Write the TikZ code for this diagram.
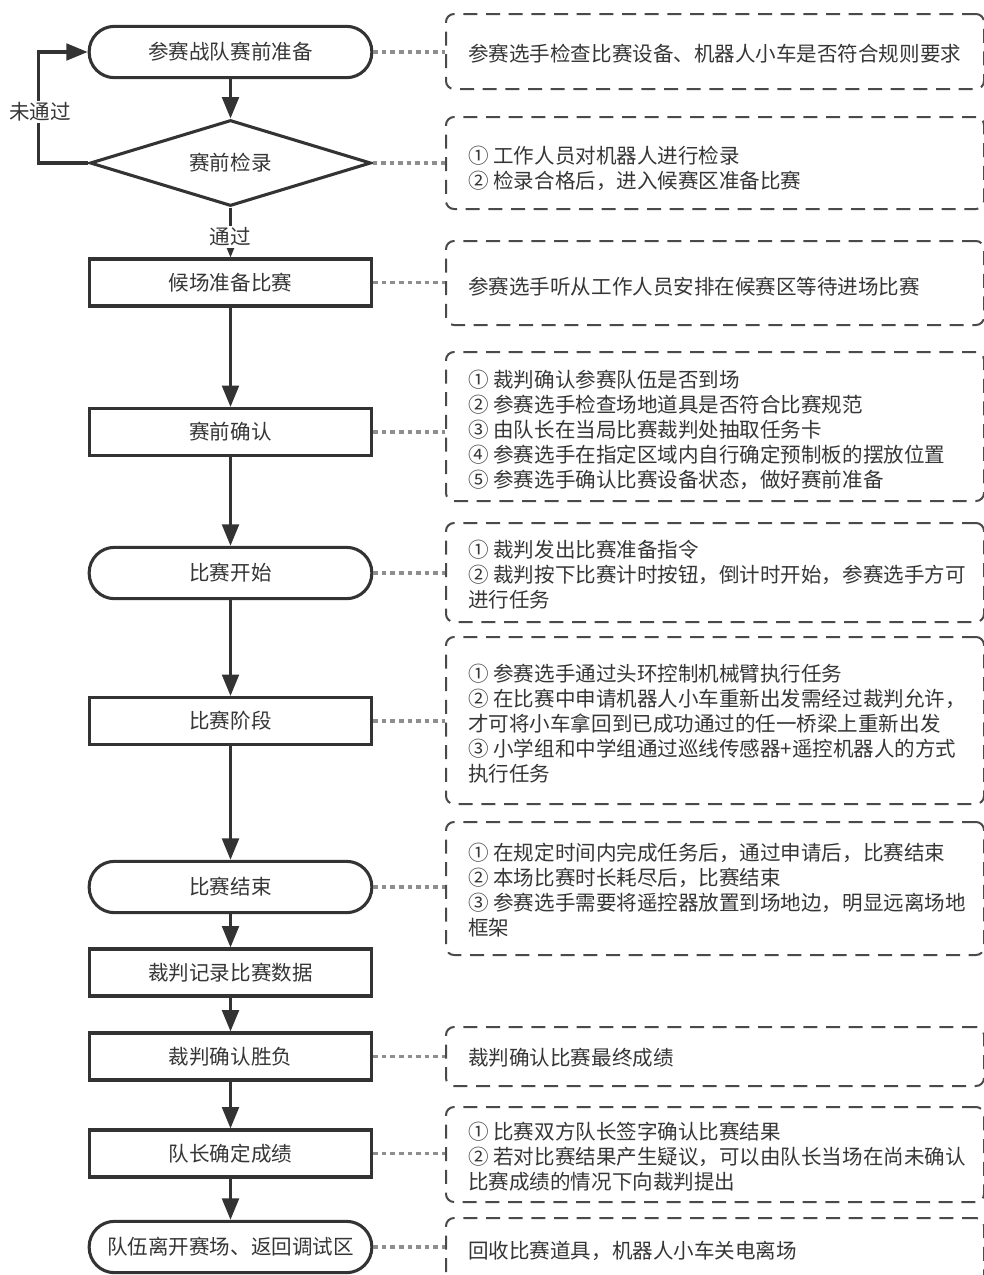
\documentclass[tikz,border=0pt]{standalone}
\usepackage{fontspec}
\setmainfont{Noto Sans CJK SC}
\usetikzlibrary{arrows.meta,shapes.geometric,calc}
\definecolor{ink}{HTML}{333333}
\definecolor{txt}{HTML}{363636}
\definecolor{dotc}{HTML}{8E8E8E}
\definecolor{dashc}{HTML}{4A4A4A}
\begin{document}
\begin{tikzpicture}[x=0.75pt,y=-0.75pt,
  base/.style={font=\fontsize{15.4pt}{18.75pt}\selectfont, text=txt},
  proc/.style={base, draw=ink, line width=2.3pt, fill=white, minimum width=212pt, minimum height=35.25pt, inner sep=0pt},
  term/.style={proc, rounded corners=19pt, minimum height=38.5pt},
  dec/.style={base, diamond, draw=ink, line width=2.3pt, fill=white, minimum width=210.75pt, minimum height=64.5pt, inner sep=0pt, aspect=3.2},
  flow/.style={draw=ink, line width=2.3pt, -{Triangle[length=16pt,width=12.5pt]}},
  lbl/.style={base, fill=white, inner sep=1pt},
  notebox/.style={draw=dashc, line width=1.5pt, dash pattern=on 10.5pt off 6.5pt, rounded corners=6pt, minimum width=403.5pt, inner sep=0pt},
  notetext/.style={base, anchor=west, align=left, inner sep=0pt},
  link/.style={draw=dotc, line width=2.3pt, dash pattern=on 3.4pt off 3pt}
]
\useasboundingbox (0,0) rectangle (983,1275);

% main flow column
\node[term] (n1) at (230.5,52) {参赛战队赛前准备};
\node[dec]  (n2) at (230.5,163) {赛前检录};
\node[proc] (n3) at (230.5,282.5) {候场准备比赛};
\node[proc] (n4) at (230.5,432) {赛前确认};
\node[term] (n5) at (230.5,573) {比赛开始};
\node[proc] (n6) at (230.5,721) {比赛阶段};
\node[term] (n7) at (230.5,887) {比赛结束};
\node[proc] (n8) at (230.5,972.5) {裁判记录比赛数据};
\node[proc] (n9) at (230.5,1056.5) {裁判确认胜负};
\node[proc] (n10) at (230.5,1153.5) {队长确定成绩};
\node[term] (n11) at (230.5,1247) {队伍离开赛场、返回调试区};

% arrows between steps
\draw[flow] (n1) -- (n2);
\draw[flow] (n2) -- (n3);
\draw[flow] (n3) -- (n4);
\draw[flow] (n4) -- (n5);
\draw[flow] (n5) -- (n6);
\draw[flow] (n6) -- (n7);
\draw[flow] (n7) -- (n8);
\draw[flow] (n8) -- (n9);
\draw[flow] (n9) -- (n10);
\draw[flow] (n10) -- (n11);
\draw[flow] (n2.west) -- ++(-50,0) |- (n1.west);

\node[lbl] (pass) at (230.5,237) {通过};
\node[lbl] (fail) at (40,112) {未通过};

% note boxes (right side runs to the page edge)
\node[notebox, minimum height=56.25pt]  (b1)  at (715,51.5) {};
\node[notebox, minimum height=69pt]     (b2)  at (715,163) {};
\node[notebox, minimum height=63pt]     (b3)  at (715,283) {};
\node[notebox, minimum height=111.75pt] (b4)  at (715,426.5) {};
\node[notebox, minimum height=74.25pt]  (b5)  at (715,572.5) {};
\node[notebox, minimum height=125.25pt] (b6)  at (715,720.5) {};
\node[notebox, minimum height=99.75pt]  (b7)  at (715,888.5) {};
\node[notebox, minimum height=44.25pt]  (b8)  at (715,1056.5) {};
\node[notebox, minimum height=71.25pt]  (b9)  at (715,1154.5) {};
\node[notebox, minimum height=61.5pt]   (b10) at (715,1259) {};

% note texts
\node[notetext] (t1) at (468,54) {参赛选手检查比赛设备、机器人小车是否符合规则要求};
\node[notetext] (t2) at (468,168.5) {① 工作人员对机器人进行检录\\② 检录合格后，进入候赛区准备比赛};
\node[notetext] (t3) at (468,287) {参赛选手听从工作人员安排在候赛区等待进场比赛};
\node[notetext] (t4) at (468,430) {① 裁判确认参赛队伍是否到场\\② 参赛选手检查场地道具是否符合比赛规范\\③ 由队长在当局比赛裁判处抽取任务卡\\④ 参赛选手在指定区域内自行确定预制板的摆放位置\\⑤ 参赛选手确认比赛设备状态，做好赛前准备};
\node[notetext] (t5) at (468,574.5) {① 裁判发出比赛准备指令\\② 裁判按下比赛计时按钮，倒计时开始，参赛选手方可\\进行任务};
\node[notetext] (t6) at (468,724) {① 参赛选手通过头环控制机械臂执行任务\\② 在比赛中申请机器人小车重新出发需经过裁判允许，\\才可将小车拿回到已成功通过的任一桥梁上重新出发\\③ 小学组和中学组通过巡线传感器+遥控机器人的方式\\执行任务};
\node[notetext] (t7) at (468,890.5) {① 在规定时间内完成任务后，通过申请后，比赛结束\\② 本场比赛时长耗尽后，比赛结束\\③ 参赛选手需要将遥控器放置到场地边，明显远离场地\\框架};
\node[notetext] (t8) at (468,1058) {裁判确认比赛最终成绩};
\node[notetext] (t9) at (468,1157) {① 比赛双方队长签字确认比赛结果\\② 若对比赛结果产生疑议，可以由队长当场在尚未确认\\比赛成绩的情况下向裁判提出};
\node[notetext] (t10) at (468,1251) {回收比赛道具，机器人小车关电离场};

% dotted links from steps to notes
\draw[link] (n1.east) -- (n1.east -| b1.west);
\draw[link] (n2.east) -- (n2.east -| b2.west);
\draw[link] (n3.east) -- (n3.east -| b3.west);
\draw[link] (n4.east) -- (n4.east -| b4.west);
\draw[link] (n5.east) -- (n5.east -| b5.west);
\draw[link] (n6.east) -- (n6.east -| b6.west);
\draw[link] (n7.east) -- (n7.east -| b7.west);
\draw[link] (n9.east) -- (n9.east -| b8.west);
\draw[link] (n10.east) -- (n10.east -| b9.west);
\draw[link] (n11.east) -- (n11.east -| b10.west);
\end{tikzpicture}
\end{document}
